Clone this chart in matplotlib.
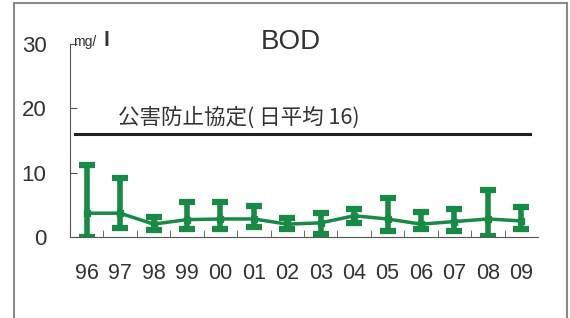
import matplotlib
matplotlib.use("Agg")
import matplotlib.pyplot as plt
from matplotlib.patches import Rectangle
import numpy as np

plt.rcParams['font.family'] = ['Liberation Sans', 'Noto Sans CJK JP']

years = ['96', '97', '98', '99', '00', '01', '02', '03', '04', '05', '06', '07', '08', '09']
bod_mean = [3.7, 3.7, 2.0, 2.7, 2.8, 2.8, 2.0, 2.2, 3.3, 2.8, 2.0, 2.4, 2.8, 2.5]
bod_max = [11.2, 9.2, 3.1, 5.5, 5.4, 4.8, 3.0, 3.8, 4.3, 6.1, 3.9, 4.3, 7.3, 4.6]
bod_min = [0.0, 1.4, 1.1, 1.2, 1.3, 1.5, 1.2, 0.5, 2.2, 1.0, 1.2, 1.0, 0.1, 1.2]
limit = 16
limit_label = '公害防止協定( 日平均 16)'

green = '#178a45'
txt = '#333333'

fig = plt.figure(figsize=(5.7, 3.18), dpi=100)
fig.patches.append(Rectangle((14 / 570, -0.05), (567 - 14) / 570, 1.05 - 3 / 318,
                             transform=fig.transFigure, fill=False,
                             edgecolor='#8a8a8a', linewidth=1.5))

ax = fig.add_axes([70 / 570, 81 / 318, 468 / 570, 193 / 318])
x = np.arange(len(years))
mean = np.array(bod_mean)
yerr = [mean - np.array(bod_min), np.array(bod_max) - mean]

ax.errorbar(x, mean, yerr=yerr, fmt='-', color=green, lw=2.5,
            elinewidth=4, capsize=5.5, capthick=4.5)
ax.plot(x, mean, 's', color=green, ms=4)

ax.plot([-0.35, 13.27], [limit, limit], color='#222222', lw=2.2)
ax.text(0.95, 18.6, limit_label, fontsize=15.5, color=txt, va='center', ha='left',
        family=['Noto Sans CJK JP', 'DejaVu Sans'])

ax.set_xlim(-0.5, len(years) - 0.5)
ax.set_ylim(0, 30)
ax.set_yticks([0, 10, 20, 30])
ax.tick_params(axis='y', direction='in', length=5, pad=17, labelsize=16,
               labelcolor=txt, color='#555555')
ax.set_xticks(x)
ax.set_xticklabels(years)
ax.tick_params(axis='x', length=0, pad=19, labelsize=15.5, labelcolor=txt)
ax.set_xticks(np.arange(0.5, len(years) - 0.5), minor=True)
ax.tick_params(axis='x', which='minor', direction='in', length=5, color='#555555')

for s in ['top', 'right']:
    ax.spines[s].set_visible(False)
for s in ['left', 'bottom']:
    ax.spines[s].set_color('#555555')

ax.text(-0.42, 30.3, 'mg/', fontsize=10, color=txt, va='center', ha='left')
ax.text(0.5, 30.6, 'l', fontsize=15, color=txt, va='center', ha='left', weight='bold')
fig.text(291 / 570, 1 - 42 / 318, 'BOD', fontsize=20, color=txt, ha='center', va='center')

fig.savefig('out.png', dpi=100)
